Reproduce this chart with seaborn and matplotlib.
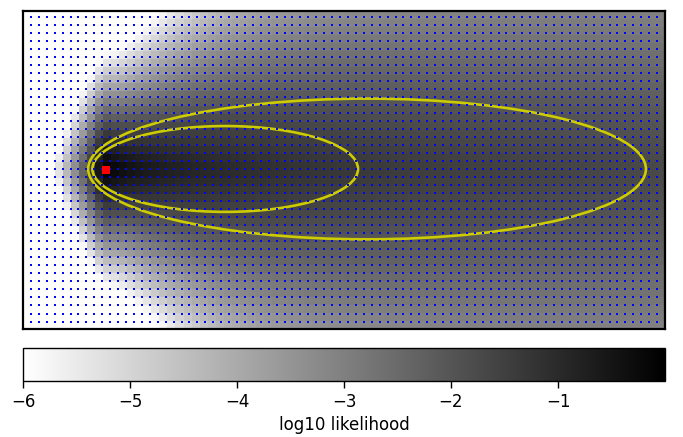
import numpy as np
import matplotlib
matplotlib.use("Agg")
import matplotlib.pyplot as plt
from matplotlib.patches import Ellipse
import seaborn as sns

# ---- grid / model parameters ----
n_cols = 80
n_rows = 40
peak_col = 10.4        # column position of the maximum-likelihood point
peak_row = 19.94       # row position of the maximum-likelihood point
# centre-row profile (log10 units)
right_k = 0.507        # slow logarithmic decay to the right of the peak
right_w = 2.5
left_a = 1.0           # steep decay to the left of the peak
left_d = 0.7
# across-row decay strength as a function of column
vert_floor = 0.025
vert_amp = 0.185
vert_col0 = 10.0
vert_scale = 8.27
vert_pow = 1.5
row_exp = 1.25
log_min, log_max = -6, 0

cbar_ticks = [-6, -5, -4, -3, -2, -1]
cbar_label = "log10 likelihood"

# ellipses: centre x, centre y, full width, full height (cell units)
ell_cx = [42.87, 25.2]
ell_cy = [19.87, 19.87]
ell_w = [69.5, 33.1]
ell_h = [17.7, 10.8]

# sample points grid (cell units)
dot_x = (np.arange(80) + 1) * 80 / 81
dot_y = 0.72 + 1.009 * np.arange(39)

# ---- likelihood surface ----
pos = np.arange(n_cols) + 0.5
rows = np.arange(n_rows) + 0.5
P, R = np.meshgrid(pos, rows)
dpos = P - peak_col
center = np.where(
    dpos >= 0,
    -right_k * np.log1p(np.clip(dpos, 0, None) / right_w),
    -left_a * (np.sqrt(left_d ** 2 + dpos ** 2) - left_d),
)
W = vert_floor + vert_amp / (1 + (np.clip(P - vert_col0, 0, None) / vert_scale) ** vert_pow)
logL = center - W * np.abs(R - peak_row) ** row_exp
logL = np.clip(logL, log_min, log_max)

# ---- figure ----
fig = plt.figure(figsize=(6.83, 4.37), dpi=100)
ax = fig.add_axes([23 / 683, 1 - 329 / 437, 642 / 683, 318 / 437])
cax = fig.add_axes([23 / 683, 1 - 381 / 437, 642 / 683, 33 / 437])

sns.heatmap(logL, ax=ax, cmap="gray_r", vmin=log_min, vmax=log_max,
            cbar=True, cbar_ax=cax, cbar_kws={"orientation": "horizontal"},
            xticklabels=False, yticklabels=False)

for ex, ey, ew, eh in zip(ell_cx, ell_cy, ell_w, ell_h):
    ax.add_patch(Ellipse((ex, ey), ew, eh, fill=False, edgecolor=(0.8, 0.8, 0.0),
                         linewidth=1.9, zorder=3))

DX, DY = np.meshgrid(dot_x, dot_y)
ax.scatter(DX.ravel(), DY.ravel(), s=4.5, marker="s", color="blue",
           linewidths=0, zorder=4)
ax.scatter([peak_col], [peak_row], s=34, marker="s", color="red",
           linewidths=0, zorder=5)

ax.set_xlim(0, n_cols)
ax.set_ylim(n_rows, 0)
ax.set_xticks([])
ax.set_yticks([])
for s in ax.spines.values():
    s.set_visible(True)
    s.set_linewidth(1.6)
    s.set_color("black")

cb = ax.collections[0].colorbar
cb.set_ticks(cbar_ticks)
cb.outline.set_linewidth(1.0)
cb.outline.set_edgecolor("black")
cax.tick_params(labelsize=12, length=5, width=1, direction="out")
cax.set_xlabel(cbar_label, fontsize=12)

fig.savefig("out.png", dpi=100)
